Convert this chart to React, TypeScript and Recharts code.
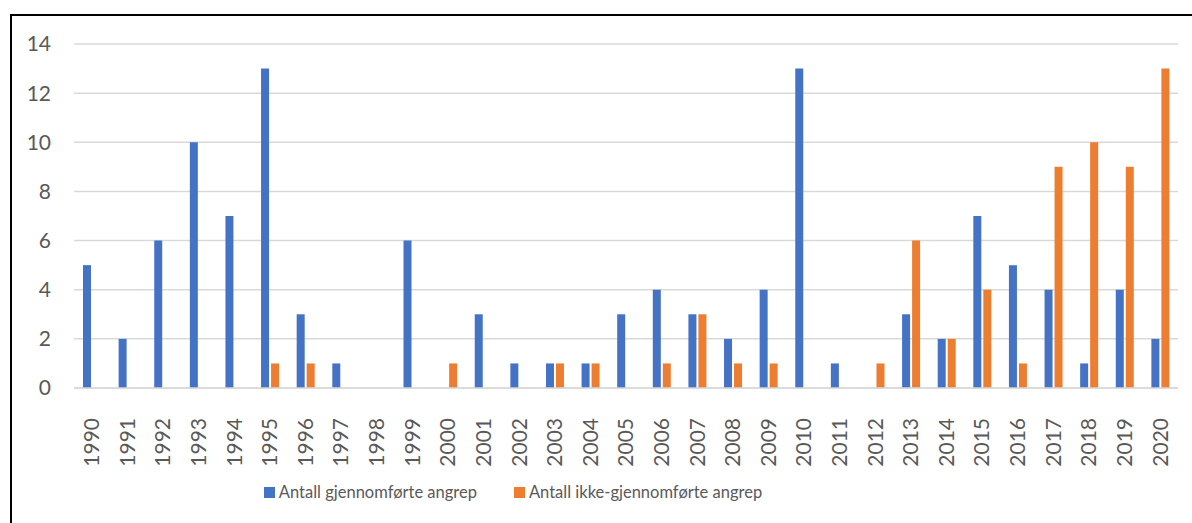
import { Bar, BarChart, CartesianGrid, Legend, XAxis, YAxis } from "recharts";

const years = [
  "1990", "1991", "1992", "1993", "1994", "1995", "1996", "1997", "1998", "1999",
  "2000", "2001", "2002", "2003", "2004", "2005", "2006", "2007", "2008", "2009",
  "2010", "2011", "2012", "2013", "2014", "2015", "2016", "2017", "2018", "2019", "2020",
];
const gjennomforte = [5, 2, 6, 10, 7, 13, 3, 1, 0, 6, 0, 3, 1, 1, 1, 3, 4, 3, 2, 4, 13, 1, 0, 3, 2, 7, 5, 4, 1, 4, 2];
const ikkeGjennomforte = [0, 0, 0, 0, 0, 1, 1, 0, 0, 0, 1, 0, 0, 1, 1, 0, 1, 3, 1, 1, 0, 0, 1, 6, 2, 4, 1, 9, 10, 9, 13];
const yTicks = [0, 2, 4, 6, 8, 10, 12, 14];

const series = [
  { key: "gjennomforte", name: "Antall gjennomførte angrep", color: "#4472C4" },
  { key: "ikke", name: "Antall ikke-gjennomførte angrep", color: "#ED7D31" },
];

const data = years.map((year, i) => ({
  year,
  gjennomforte: gjennomforte[i],
  ikke: ikkeGjennomforte[i],
}));

const FONT = "Lato, sans-serif";
const TEXT = "#595959";

function YearTick({ x, y, payload }: any) {
  return (
    <text
      transform={`translate(${x},${y + 22}) rotate(-90)`}
      textAnchor="end"
      dy="0.35em"
      fill={TEXT}
      fontSize={21}
      fontFamily={FONT}
    >
      {payload.value}
    </text>
  );
}

function LegendRow() {
  return (
    <div style={{ display: "flex", justifyContent: "center", gap: 37, fontFamily: FONT, fontSize: 16.5, color: TEXT }}>
      {series.map((s) => (
        <div key={s.key} style={{ display: "flex", alignItems: "center", gap: 4 }}>
          <span style={{ width: 11, height: 11, background: s.color, display: "inline-block" }} />
          <span>{s.name}</span>
        </div>
      ))}
    </div>
  );
}

export default function App() {
  return (
    <div
      style={{
        position: "absolute",
        left: 10,
        top: 14,
        borderTop: "2px solid #000",
        borderLeft: "2px solid #000",
        width: 1180,
        height: 507,
        background: "#fff",
      }}
    >
      <BarChart
        width={1180}
        height={507}
        data={data}
        barSize={8}
        barGap={2}
        margin={{ top: 28, right: 14, left: 0, bottom: 21 }}
      >
        <CartesianGrid vertical={false} stroke="#d9d9d9" strokeWidth={1.5} />
        <XAxis
          dataKey="year"
          interval={0}
          height={94}
          tick={<YearTick />}
          tickLine={false}
          axisLine={{ stroke: "#d9d9d9", strokeWidth: 1.5 }}
        />
        <YAxis
          domain={[0, 14]}
          ticks={yTicks}
          width={62}
          tickSize={0}
          tickMargin={23}
          tickLine={false}
          axisLine={false}
          tick={{ fill: TEXT, fontSize: 21, fontFamily: FONT }}
        />
        <Legend
          verticalAlign="bottom"
          content={<LegendRow />}
          wrapperStyle={{ left: 0, width: 1002 }}
        />
        {series.map((s) => (
          <Bar key={s.key} dataKey={s.key} name={s.name} fill={s.color} isAnimationActive={false} />
        ))}
      </BarChart>
    </div>
  );
}
